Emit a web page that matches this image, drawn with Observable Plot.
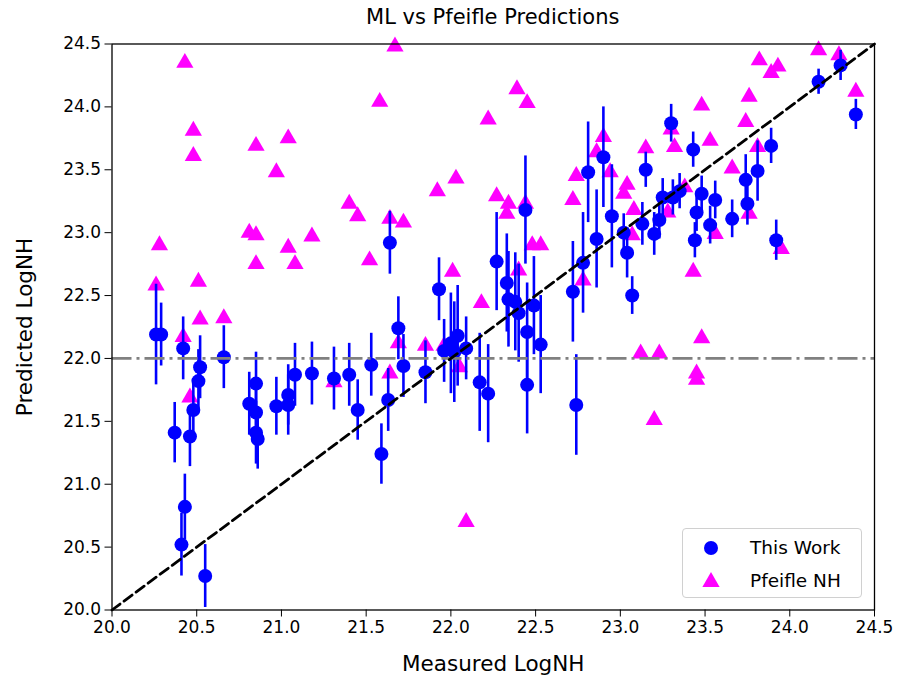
<!DOCTYPE html>
<html>
<head>
<meta charset="utf-8">
<script src="https://cdn.jsdelivr.net/npm/d3@7"></script>
<script src="https://cdn.jsdelivr.net/npm/@observablehq/plot@0.6"></script>
<style>
  html, body { margin: 0; padding: 0; background: #fff; }
  #wrap { position: relative; width: 900px; height: 682px; font-family: "DejaVu Sans", sans-serif; }
  #title { position: absolute; left: 111.5px; width: 762.5px; top: 5px; text-align: center; font-size: 21px; color: #000; }
  #chart { position: absolute; left: 0; top: 34px; }
  #legend { position: absolute; left: 682px; top: 528px; width: 180px; height: 70px; border: 1px solid #d0d0d0; border-radius: 4px; background: rgba(255,255,255,0.85); box-sizing: border-box; }
  .lg-item { position: absolute; left: 0; height: 30px; width: 180px; font-size: 18.5px; color: #000; }
  .lg-item svg { position: absolute; left: 18px; top: 0; }
  .lg-item span { position: absolute; left: 67px; top: 4px; }
</style>
</head>
<body>
<div id="wrap">
  <div id="title">ML vs Pfeifle Predictions</div>
  <div id="chart"></div>
  <div id="legend"></div>
</div>
<script>
// "This Work" (blue points with error bars)
const workX = [20.26, 20.29, 20.42, 20.52, 20.51, 20.48, 20.37, 20.46, 20.43, 20.41, 20.55, 20.66,
  20.85, 20.81, 20.85, 20.85, 20.86, 20.97, 21.04, 21.04, 21.08, 21.18, 21.31, 21.40, 21.45, 21.53,
  21.64, 21.69, 21.72, 21.85, 21.63, 21.59, 21.93, 22.04, 22.09, 22.00, 22.02, 21.96, 22.17, 22.22,
  22.27, 22.33, 22.34, 22.38, 22.40, 22.45, 22.49, 22.53, 22.45, 22.44, 22.72, 22.74, 22.78, 22.81,
  22.86, 22.90, 22.95, 23.02, 23.04, 23.07, 23.13, 23.15, 23.20, 23.23, 23.25, 23.30, 23.31, 23.35,
  23.43, 23.44, 23.45, 23.48, 23.53, 23.56, 23.66, 23.74, 23.75, 23.81, 23.89, 23.92, 24.17, 24.30, 24.39];
const workY = [22.19, 22.19, 22.08, 21.93, 21.82, 21.59, 21.41, 21.38, 20.82, 20.52, 20.27, 22.01,
  21.80, 21.64, 21.57, 21.41, 21.36, 21.62, 21.71, 21.63, 21.87, 21.88, 21.84, 21.87, 21.59, 21.95,
  22.92, 22.24, 21.94, 21.89, 21.67, 21.24, 22.55, 22.18, 22.08, 22.12, 22.05, 22.06, 21.81, 21.72,
  22.77, 22.60, 22.47, 22.45, 22.36, 22.21, 22.42, 22.11, 21.79, 23.18, 22.53, 21.63, 22.76, 23.48,
  22.95, 23.60, 23.13, 23.00, 22.84, 22.50, 23.07, 23.50, 22.99, 23.10, 23.28, 23.87, 23.28, 23.33,
  23.66, 22.94, 23.16, 23.31, 23.06, 23.26, 23.11, 23.42, 23.23, 23.49, 23.69, 22.94, 24.20, 24.33, 23.94];
const workErr = [0.40, 0.25, 0.25, 0.25, 0.25, 0.25, 0.24, 0.24, 0.26, 0.25, 0.25, 0.25,
  0.25, 0.25, 0.25, 0.25, 0.24, 0.23, 0.24, 0.24, 0.25, 0.25, 0.25, 0.25, 0.24, 0.25,
  0.25, 0.25, 0.25, 0.25, 0.25, 0.24, 0.25, 0.40, 0.25, 0.40, 0.40, 0.25, 0.39, 0.39,
  0.39, 0.39, 0.38, 0.39, 0.39, 0.39, 0.39, 0.39, 0.39, 0.43, 0.40, 0.40, 0.40, 0.40,
  0.39, 0.40, 0.41, 0.15, 0.20, 0.15, 0.17, 0.14, 0.17, 0.15, 0.15, 0.15, 0.14, 0.14,
  0.14, 0.14, 0.15, 0.14, 0.15, 0.15, 0.15, 0.20, 0.17, 0.24, 0.14, 0.16, 0.10, 0.12, 0.12];

// "Pfeifle NH" (magenta triangles)
const pfX = [20.43, 20.48, 20.48, 20.85, 21.04, 20.97, 21.40, 21.45, 20.81, 20.85, 20.28, 21.18,
  20.26, 20.85, 21.04, 21.08, 21.52, 20.51, 20.52, 20.66, 20.42, 20.46, 21.31, 21.67, 21.58, 22.39,
  22.45, 22.22, 22.90, 22.86, 22.94, 22.74, 22.72, 22.03, 21.92, 22.27, 22.34, 22.33, 22.44, 21.64,
  21.72, 22.48, 22.53, 24.17, 24.29, 23.82, 23.89, 23.93, 24.39, 23.76, 23.48, 23.74, 23.30, 23.32,
  23.53, 23.15, 23.81, 23.66, 23.04, 23.02, 23.38, 23.28, 23.08, 23.76, 23.56, 23.07, 23.95, 23.43,
  23.48, 23.12, 23.23, 23.45, 23.45, 23.20, 22.01, 22.18, 22.40, 22.78, 21.69, 21.85, 21.96, 21.64,
  22.05, 22.09];
const pfY = [24.35, 23.81, 23.61, 23.69, 23.75, 23.48, 23.23, 23.13, 23.00, 22.98, 22.90, 22.97,
  22.58, 22.75, 22.88, 22.75, 22.78, 22.61, 22.31, 22.32, 22.17, 21.69, 21.81, 24.48, 24.04, 24.14,
  24.03, 23.90, 23.76, 23.64, 23.48, 23.45, 23.26, 23.43, 23.33, 23.29, 23.23, 23.15, 23.23, 23.11,
  23.08, 22.90, 22.90, 24.45, 24.41, 24.37, 24.27, 24.32, 24.12, 24.08, 24.01, 23.88, 23.82, 23.68,
  23.73, 23.67, 23.68, 23.51, 23.38, 23.31, 23.36, 23.16, 23.18, 23.15, 22.99, 22.98, 22.87, 22.69,
  22.16, 22.04, 22.04, 21.88, 21.83, 21.51, 22.69, 22.44, 22.70, 22.62, 22.12, 22.10, 22.10, 21.88,
  21.93, 20.70];

const ticks = [20.0, 20.5, 21.0, 21.5, 22.0, 22.5, 23.0, 23.5, 24.0, 24.5];
const axisDomain = [20.0, 24.5];
const refLevel = [22.0];
const seriesNames = ["This Work", "Pfeifle NH"];
const seriesColors = ["#0000ff", "#ff00ff"];
const xLabel = "Measured LogNH";
const yLabel = "Predicted LogNH";

const work = workX.map((x, i) => ({x, y: workY[i], e: workErr[i]}));
const pf = pfX.map((x, i) => ({x, y: pfY[i]}));
const fmt = d => d.toFixed(1);

const chart = Plot.plot({
  width: 900,
  height: 648,
  marginLeft: 111.5,
  marginRight: 26,
  marginTop: 9.5,
  marginBottom: 72.5,
  x: {domain: axisDomain},
  y: {domain: axisDomain},
  style: {fontFamily: "DejaVu Sans", fontSize: "17px", color: "#000", background: "#fff", overflow: "visible"},
  marks: [
    Plot.dot(pf, {x: "x", y: "y", symbol: "triangle", r: 6.4, fill: seriesColors[1], stroke: "none"}),
    Plot.ruleX(work, {x: "x", y1: d => d.y - d.e, y2: d => d.y + d.e, stroke: seriesColors[0], strokeWidth: 2.6}),
    Plot.dot(work, {x: "x", y: "y", r: 7, fill: seriesColors[0], stroke: "none"}),
    Plot.ruleY(refLevel, {stroke: "#808080", strokeWidth: 2.8, strokeDasharray: "20,5,3,5"}),
    Plot.line(axisDomain, {x: d => d, y: d => d, stroke: "#000", strokeWidth: 2.8, strokeDasharray: "10,5"}),
    Plot.frame({stroke: "#000", strokeWidth: 1.3}),
    Plot.axisX({ticks, tickFormat: fmt, tickSize: 7, tickPadding: 4, label: null, fontSize: 17}),
    Plot.axisY({ticks, tickFormat: fmt, tickSize: 7, tickPadding: 4, label: null, fontSize: 17}),
    Plot.text([xLabel], {frameAnchor: "bottom", dy: 54, fontSize: 21.5, textAnchor: "middle", lineAnchor: "middle", text: d => d}),
    Plot.text([yLabel], {frameAnchor: "left", dx: -87, rotate: -90, fontSize: 21.5, textAnchor: "middle", lineAnchor: "middle", text: d => d})
  ]
});
document.getElementById("chart").appendChild(chart);

// Legend
const legend = document.getElementById("legend");
seriesNames.forEach((name, i) => {
  const item = document.createElement("div");
  item.className = "lg-item";
  item.style.top = (4 + i * 33) + "px";
  const sym = i === 0
    ? `<circle cx="10" cy="15" r="7" fill="${seriesColors[0]}"/>`
    : `<path d="${d3.symbol(d3.symbolTriangle, Math.PI * 6.4 * 6.4)()}" transform="translate(10,16)" fill="${seriesColors[1]}"/>`;
  item.innerHTML = `<svg width="20" height="30">${sym}</svg><span>${name}</span>`;
  legend.appendChild(item);
});
</script>
</body>
</html>
